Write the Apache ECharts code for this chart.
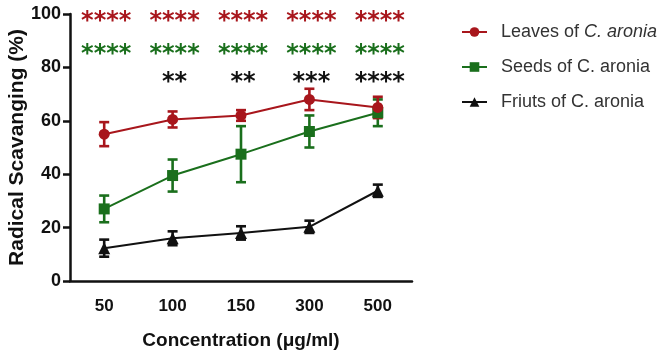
<!DOCTYPE html>
<html>
<head>
<meta charset="utf-8">
<script src="https://cdn.jsdelivr.net/npm/echarts@6/dist/echarts.min.js"></script>
<style>
  html, body { margin: 0; padding: 0; background: #fff; }
  #main { width: 667px; height: 359px; }
</style>
</head>
<body>
<div id="main"></div>
<script>
  // concentrations (µg/ml)
  const categories = ['50', '100', '150', '300', '500'];
  const yTicks = [0, 20, 40, 60, 80, 100];

  // radical scavenging (%) and error (±)
  const leavesMean = [55, 60.5, 62, 68, 65];
  const leavesErr = [4.5, 3, 2, 4, 4];
  const seedsMean = [27, 39.5, 47.5, 56, 63];
  const seedsErr = [5, 6, 10.5, 6, 5];
  const fruitsMean = [12.3, 16, 18, 20.3, 33.8];
  const fruitsErr = [3.2, 2.6, 2.5, 2.3, 2.3];

  // significance marks above each concentration
  const leavesStars = ['****', '****', '****', '****', '****'];
  const seedsStars = ['****', '****', '****', '****', '****'];
  const fruitsStars = ['', '**', '**', '***', '****'];
  const starLevels = [99.5, 87, 76.5];

  const RED = '#a8161c';
  const GREEN = '#1a6f1c';
  const BLACK = '#111111';

  const chartDom = document.getElementById('main');
  const myChart = echarts.init(chartDom);

  function errData(mean, err) {
    return mean.map((m, i) => [i, m - err[i], m + err[i]]);
  }

  function errSeries(name, mean, err, color) {
    return {
      type: 'custom',
      name: name,
      data: errData(mean, err),
      z: 3,
      renderItem: function (params, api) {
        const lo = api.coord([api.value(0), api.value(1)]);
        const hi = api.coord([api.value(0), api.value(2)]);
        const w = 5;
        const st = { stroke: color, lineWidth: 2.6 };
        return {
          type: 'group',
          children: [
            { type: 'line', shape: { x1: lo[0], y1: lo[1], x2: hi[0], y2: hi[1] }, style: st },
            { type: 'line', shape: { x1: lo[0] - w, y1: lo[1], x2: lo[0] + w, y2: lo[1] }, style: st },
            { type: 'line', shape: { x1: hi[0] - w, y1: hi[1], x2: hi[0] + w, y2: hi[1] }, style: st }
          ]
        };
      }
    };
  }

  function starSeries(stars, level, color) {
    return {
      type: 'custom',
      data: stars.map((s, i) => [i, level, s]),
      silent: true,
      renderItem: function (params, api) {
        const p = api.coord([api.value(0), api.value(1)]);
        return {
          type: 'text',
          x: p[0] + 2,
          y: p[1] + 6,
          style: {
            text: stars[params.dataIndex],
            fill: color,
            font: 'bold 24px "DejaVu Sans", sans-serif',
            align: 'center',
            verticalAlign: 'middle'
          }
        };
      }
    };
  }

  function lineSeries(name, mean, color, symbol, size) {
    return {
      name: name,
      type: 'line',
      data: mean,
      symbol: symbol,
      symbolSize: size,
      z: 4,
      lineStyle: { color: color, width: 2 },
      itemStyle: { color: color }
    };
  }

  const option = {
    animation: false,
    textStyle: { fontFamily: '"Liberation Sans", Arial, sans-serif' },
    grid: { left: 70, right: 255, top: 14, bottom: 78, containLabel: false, outerBoundsMode: 'none' },
    legend: {
      orient: 'vertical',
      left: 456,
      top: 18,
      itemWidth: 25,
      itemHeight: 12,
      itemGap: 17,
      data: ['Leaves of C. aronia', 'Seeds of C. aronia', 'Friuts of C. aronia'],
      formatter: function (name) {
        if (name === 'Leaves of C. aronia') return '{n|Leaves of }{i|C. aronia}';
        return '{n|' + name + '}';
      },
      textStyle: {
        color: '#333',
        fontSize: 18,
        padding: [0, 0, 0, 9],
        rich: {
          n: { fontSize: 18, color: '#333' },
          i: { fontSize: 18, color: '#333', fontStyle: 'italic' }
        }
      }
    },
    xAxis: {
      type: 'category',
      data: categories,
      name: 'Concentration (μg/ml)',
      nameLocation: 'middle',
      nameGap: 50,
      nameTextStyle: { fontSize: 19, fontWeight: 'bold', color: '#111' },
      axisLine: { lineStyle: { color: '#111', width: 2.5 } },
      axisTick: { alignWithLabel: true, length: 9, lineStyle: { color: '#111', width: 2.5 } },
      axisLabel: { fontSize: 17, fontWeight: 'bold', color: '#111', margin: 17 }
    },
    yAxis: {
      type: 'value',
      min: yTicks[0],
      max: yTicks[yTicks.length - 1],
      interval: 20,
      name: 'Radical Scavanging (%)',
      nameLocation: 'middle',
      nameGap: 42,
      nameMoveOverlap: false,
      nameTextStyle: { fontSize: 21, fontWeight: 'bold', color: '#111' },
      splitLine: { show: false },
      axisLine: { show: true, lineStyle: { color: '#111', width: 2.5 } },
      axisTick: { show: true, length: 7, lineStyle: { color: '#111', width: 2.5 } },
      axisLabel: { fontSize: 18, fontWeight: 'bold', color: '#111', margin: 9 }
    },
    series: [
      lineSeries('Friuts of C. aronia', fruitsMean, BLACK, 'triangle', 12),
      errSeries('Friuts of C. aronia', fruitsMean, fruitsErr, BLACK),
      lineSeries('Seeds of C. aronia', seedsMean, GREEN, 'rect', 11),
      errSeries('Seeds of C. aronia', seedsMean, seedsErr, GREEN),
      lineSeries('Leaves of C. aronia', leavesMean, RED, 'circle', 11),
      errSeries('Leaves of C. aronia', leavesMean, leavesErr, RED),
      starSeries(leavesStars, starLevels[0], RED),
      starSeries(seedsStars, starLevels[1], GREEN),
      starSeries(fruitsStars, starLevels[2], BLACK)
    ]
  };
  myChart.setOption(option);
</script>
</body>
</html>
